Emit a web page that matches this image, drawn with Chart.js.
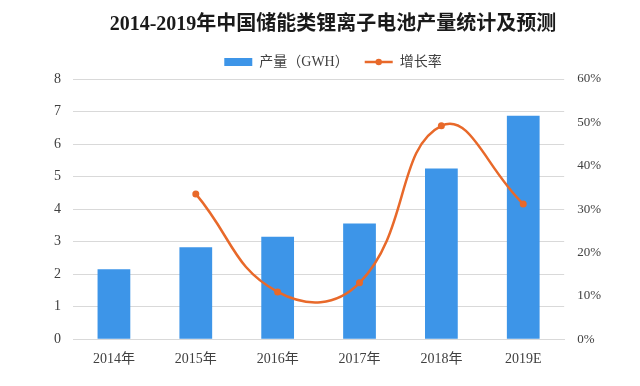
<!DOCTYPE html>
<html>
<head>
<meta charset="utf-8">
<script src="https://cdn.jsdelivr.net/npm/chart.js@4"></script>
<style>
  html, body { margin: 0; padding: 0; background: #fff; }
  #wrap { width: 640px; height: 386px; position: relative; }
</style>
</head>
<body>
<div id="wrap"><canvas id="chart"></canvas></div>
<script>
const years = ["2014年", "2015年", "2016年", "2017年", "2018年", "2019E"];
const output = [2.15, 2.83, 3.15, 3.56, 5.25, 6.87];      // 产量 GWH
const growth = [null, 33.5, 10.9, 13.0, 49.2, 31.2];      // 增长率 %
const leftTicks = [0, 1, 2, 3, 4, 5, 6, 7, 8];
const rightTicks = [0, 10, 20, 30, 40, 50, 60];

const BLUE = "#3d95e8";
const ORANGE = "#e8692a";
const FONT = "'Liberation Serif', 'Noto Sans CJK SC', serif";

// dot in the middle of the line legend marker
const legendDot = {
  id: "legendDot",
  afterDraw(chart) {
    const lg = chart.legend;
    if (!lg || !lg.legendHitBoxes) return;
    const box = lg.legendHitBoxes[1];
    if (!box) return;
    const ctx = chart.ctx;
    ctx.save();
    ctx.fillStyle = ORANGE;
    ctx.beginPath();
    ctx.arc(box.left + 14, box.top + box.height / 2, 3.2, 0, Math.PI * 2);
    ctx.fill();
    ctx.restore();
  }
};

new Chart(document.getElementById("chart"), {
  data: {
    labels: years,
    datasets: [
      {
        type: "line",
        label: "增长率",
        data: growth,
        yAxisID: "y1",
        borderColor: ORANGE,
        backgroundColor: ORANGE,
        borderWidth: 2.5,
        tension: 0.45,
        pointRadius: 3.5,
        pointBackgroundColor: ORANGE,
        pointBorderWidth: 0
      },
      {
        type: "bar",
        label: "产量（GWH）",
        data: output,
        yAxisID: "y",
        backgroundColor: BLUE,
        categoryPercentage: 1,
        barPercentage: 0.4
      }
    ]
  },
  options: {
    responsive: true,
    maintainAspectRatio: false,
    animation: false,
    layout: { padding: { left: 52, right: 26, top: 9, bottom: 14 } },
    plugins: {
      tooltip: { enabled: false },
      title: {
        display: true,
        text: "2014-2019年中国储能类锂离子电池产量统计及预测",
        color: "#1a1a1a",
        font: { family: FONT, size: 20, weight: "bold" },
        padding: { top: 4, bottom: 2 }
      },
      legend: {
        display: true,
        labels: {
          color: "#404040",
          font: { family: FONT, size: 14 },
          usePointStyle: true,
          pointStyleWidth: 28,
          boxHeight: 8,
          padding: 16,
          generateLabels(chart) {
            const ds = chart.data.datasets;
            return [
              { text: ds[1].label, fillStyle: BLUE, strokeStyle: BLUE, lineWidth: 0, pointStyle: "rect", datasetIndex: 1, fontColor: "#404040" },
              { text: ds[0].label, fillStyle: ORANGE, strokeStyle: ORANGE, lineWidth: 2.5, pointStyle: "line", datasetIndex: 0, fontColor: "#404040" }
            ];
          }
        }
      }
    },
    scales: {
      x: {
        grid: { display: false },
        border: { color: "#d9d9d9" },
        ticks: { color: "#404040", font: { family: FONT, size: 14 }, padding: 4 }
      },
      y: {
        position: "left",
        min: 0,
        max: 8,
        afterBuildTicks(axis) { axis.ticks = leftTicks.map(v => ({ value: v })); },
        grid: { color: "#d9d9d9", drawTicks: true, tickLength: 10, tickColor: "#fff" },
        border: { display: false },
        ticks: { color: "#404040", font: { family: FONT, size: 14 }, padding: 2 }
      },
      y1: {
        position: "right",
        min: 0,
        max: 60,
        afterBuildTicks(axis) { axis.ticks = rightTicks.map(v => ({ value: v })); },
        grid: { drawOnChartArea: false, drawTicks: false },
        border: { display: false },
        ticks: { color: "#404040", font: { family: FONT, size: 13 }, padding: 13, callback: v => v + "%" }
      }
    }
  },
  plugins: [legendDot]
});
</script>
</body>
</html>
